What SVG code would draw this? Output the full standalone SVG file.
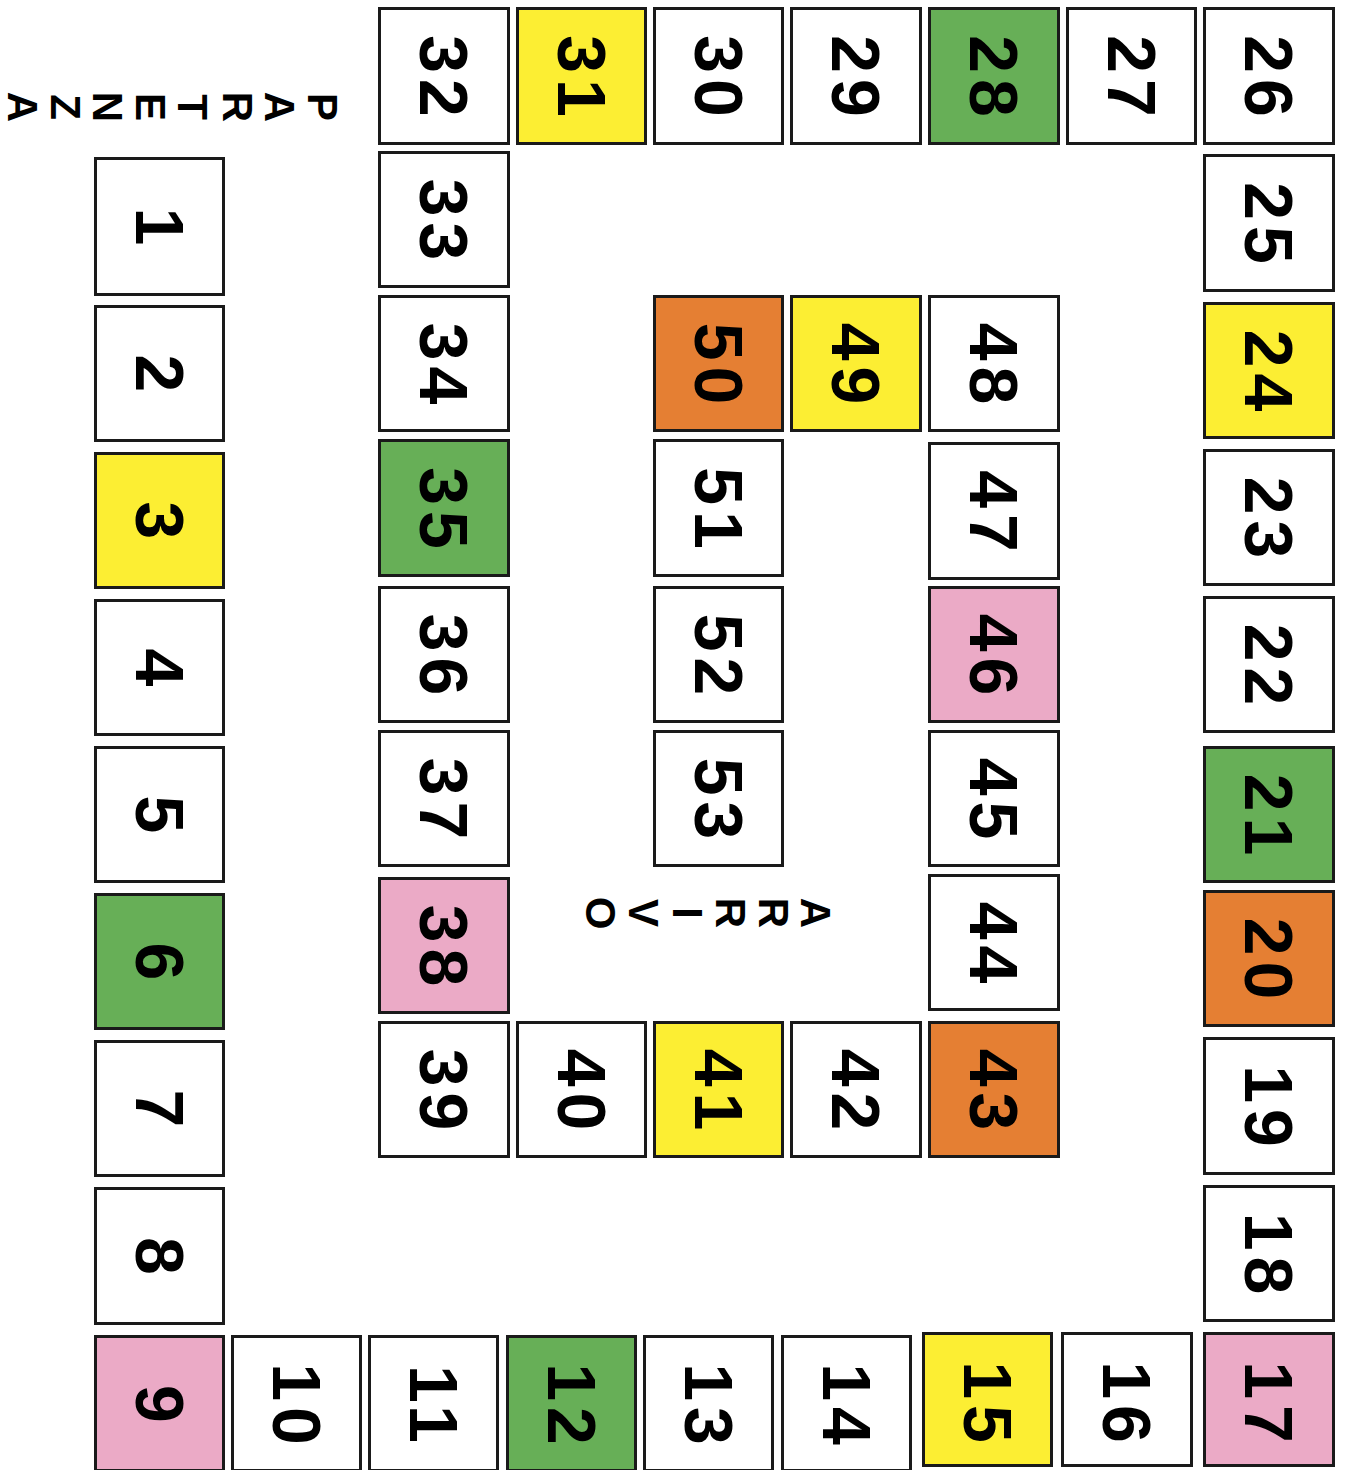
<svg xmlns="http://www.w3.org/2000/svg" width="1347" height="1470" viewBox="0 0 1347 1470">
<style>
.sq{fill:#ffffff;stroke:#1a1a1a;stroke-width:3}
.y{fill:#fcee33}
.g{fill:#67af57}
.o{fill:#e57f33}
.p{fill:#ebaac6}
.n{font-family:"Liberation Sans",Arial,sans-serif;font-weight:bold;font-size:68px;letter-spacing:6px;text-anchor:middle;dominant-baseline:central;fill:#000}
.l{font-family:"Liberation Sans",Arial,sans-serif;font-weight:bold;font-size:42px;text-anchor:middle;dominant-baseline:central;fill:#000}
</style>
<rect width="1347" height="1470" fill="#ffffff"/>
<g id="squares">
<g id="s1"><rect class="sq" x="95.5" y="158.5" width="128" height="136"/><text class="n" x="162.5" y="226.5" transform="rotate(90 159.5 226.5)">1</text></g>
<g id="s2"><rect class="sq" x="95.5" y="306.5" width="128" height="134"/><text class="n" x="162.5" y="373.5" transform="rotate(90 159.5 373.5)">2</text></g>
<g id="s3"><rect class="sq y" x="95.5" y="453.5" width="128" height="134"/><text class="n" x="162.5" y="520.5" transform="rotate(90 159.5 520.5)">3</text></g>
<g id="s4"><rect class="sq" x="95.5" y="600.5" width="128" height="134"/><text class="n" x="162.5" y="667.5" transform="rotate(90 159.5 667.5)">4</text></g>
<g id="s5"><rect class="sq" x="95.5" y="747.5" width="128" height="134"/><text class="n" x="162.5" y="814.5" transform="rotate(90 159.5 814.5)">5</text></g>
<g id="s6"><rect class="sq g" x="95.5" y="894.5" width="128" height="134"/><text class="n" x="162.5" y="961.5" transform="rotate(90 159.5 961.5)">6</text></g>
<g id="s7"><rect class="sq" x="95.5" y="1041.5" width="128" height="134"/><text class="n" x="162.5" y="1108.5" transform="rotate(90 159.5 1108.5)">7</text></g>
<g id="s8"><rect class="sq" x="95.5" y="1188.5" width="128" height="135"/><text class="n" x="162.5" y="1256" transform="rotate(90 159.5 1256)">8</text></g>
<g id="s9"><rect class="sq p" x="95.5" y="1336.5" width="128" height="134"/><text class="n" x="162.5" y="1404" transform="rotate(90 159.5 1404)">9</text></g>
<g id="s10"><rect class="sq" x="232.5" y="1336.5" width="128" height="134"/><text class="n" x="299.5" y="1404" transform="rotate(90 296.5 1404)">10</text></g>
<g id="s11"><rect class="sq" x="369.5" y="1336.5" width="128" height="134"/><text class="n" x="436.5" y="1404" transform="rotate(90 433.5 1404)">11</text></g>
<g id="s12"><rect class="sq g" x="507.5" y="1336.5" width="128" height="134"/><text class="n" x="574.5" y="1404" transform="rotate(90 571.5 1404)">12</text></g>
<g id="s13"><rect class="sq" x="644.5" y="1336.5" width="128" height="134"/><text class="n" x="711.5" y="1404" transform="rotate(90 708.5 1404)">13</text></g>
<g id="s14"><rect class="sq" x="782.5" y="1336.5" width="128" height="134"/><text class="n" x="849.5" y="1404" transform="rotate(90 846.5 1404)">14</text></g>
<g id="s15"><rect class="sq y" x="923.5" y="1333.5" width="128" height="132"/><text class="n" x="990.5" y="1402" transform="rotate(90 987.5 1402)">15</text></g>
<g id="s16"><rect class="sq" x="1062.5" y="1333.5" width="129" height="132"/><text class="n" x="1130" y="1402" transform="rotate(90 1127 1402)">16</text></g>
<g id="s17"><rect class="sq p" x="1204.5" y="1333.5" width="129" height="132"/><text class="n" x="1272" y="1402" transform="rotate(90 1269 1402)">17</text></g>
<g id="s18"><rect class="sq" x="1204.5" y="1186.5" width="129" height="134"/><text class="n" x="1272" y="1253.5" transform="rotate(90 1269 1253.5)">18</text></g>
<g id="s19"><rect class="sq" x="1204.5" y="1038.5" width="129" height="135"/><text class="n" x="1272" y="1106" transform="rotate(90 1269 1106)">19</text></g>
<g id="s20"><rect class="sq o" x="1204.5" y="891.5" width="129" height="134"/><text class="n" x="1272" y="958.5" transform="rotate(90 1269 958.5)">20</text></g>
<g id="s21"><rect class="sq g" x="1204.5" y="747.5" width="129" height="134"/><text class="n" x="1272" y="814.5" transform="rotate(90 1269 814.5)">21</text></g>
<g id="s22"><rect class="sq" x="1204.5" y="597.5" width="129" height="134"/><text class="n" x="1272" y="664.5" transform="rotate(90 1269 664.5)">22</text></g>
<g id="s23"><rect class="sq" x="1204.5" y="450.5" width="129" height="134"/><text class="n" x="1272" y="517.5" transform="rotate(90 1269 517.5)">23</text></g>
<g id="s24"><rect class="sq y" x="1204.5" y="303.5" width="129" height="134"/><text class="n" x="1272" y="370.5" transform="rotate(90 1269 370.5)">24</text></g>
<g id="s25"><rect class="sq" x="1204.5" y="155.5" width="129" height="135"/><text class="n" x="1272" y="223" transform="rotate(90 1269 223)">25</text></g>
<g id="s26"><rect class="sq" x="1204.5" y="8.5" width="129" height="135"/><text class="n" x="1272" y="76" transform="rotate(90 1269 76)">26</text></g>
<g id="s27"><rect class="sq" x="1067.5" y="8.5" width="128" height="135"/><text class="n" x="1134.5" y="76" transform="rotate(90 1131.5 76)">27</text></g>
<g id="s28"><rect class="sq g" x="929.5" y="8.5" width="129" height="135"/><text class="n" x="997" y="76" transform="rotate(90 994 76)">28</text></g>
<g id="s29"><rect class="sq" x="791.5" y="8.5" width="129" height="135"/><text class="n" x="859" y="76" transform="rotate(90 856 76)">29</text></g>
<g id="s30"><rect class="sq" x="654.5" y="8.5" width="128" height="135"/><text class="n" x="721.5" y="76" transform="rotate(90 718.5 76)">30</text></g>
<g id="s31"><rect class="sq y" x="517.5" y="8.5" width="128" height="135"/><text class="n" x="584.5" y="76" transform="rotate(90 581.5 76)">31</text></g>
<g id="s32"><rect class="sq" x="379.5" y="8.5" width="129" height="135"/><text class="n" x="447" y="76" transform="rotate(90 444 76)">32</text></g>
<g id="s33"><rect class="sq" x="379.5" y="152.5" width="129" height="134"/><text class="n" x="447" y="219.5" transform="rotate(90 444 219.5)">33</text></g>
<g id="s34"><rect class="sq" x="379.5" y="296.5" width="129" height="134"/><text class="n" x="447" y="363.5" transform="rotate(90 444 363.5)">34</text></g>
<g id="s35"><rect class="sq g" x="379.5" y="440.5" width="129" height="135"/><text class="n" x="447" y="508" transform="rotate(90 444 508)">35</text></g>
<g id="s36"><rect class="sq" x="379.5" y="587.5" width="129" height="134"/><text class="n" x="447" y="654.5" transform="rotate(90 444 654.5)">36</text></g>
<g id="s37"><rect class="sq" x="379.5" y="731.5" width="129" height="134"/><text class="n" x="447" y="798.5" transform="rotate(90 444 798.5)">37</text></g>
<g id="s38"><rect class="sq p" x="379.5" y="878.5" width="129" height="134"/><text class="n" x="447" y="945.5" transform="rotate(90 444 945.5)">38</text></g>
<g id="s39"><rect class="sq" x="379.5" y="1022.5" width="129" height="134"/><text class="n" x="447" y="1089.5" transform="rotate(90 444 1089.5)">39</text></g>
<g id="s40"><rect class="sq" x="517.5" y="1022.5" width="128" height="134"/><text class="n" x="584.5" y="1089.5" transform="rotate(90 581.5 1089.5)">40</text></g>
<g id="s41"><rect class="sq y" x="654.5" y="1022.5" width="128" height="134"/><text class="n" x="721.5" y="1089.5" transform="rotate(90 718.5 1089.5)">41</text></g>
<g id="s42"><rect class="sq" x="791.5" y="1022.5" width="129" height="134"/><text class="n" x="859" y="1089.5" transform="rotate(90 856 1089.5)">42</text></g>
<g id="s43"><rect class="sq o" x="929.5" y="1022.5" width="129" height="134"/><text class="n" x="997" y="1089.5" transform="rotate(90 994 1089.5)">43</text></g>
<g id="s44"><rect class="sq" x="929.5" y="875.5" width="129" height="134"/><text class="n" x="997" y="942.5" transform="rotate(90 994 942.5)">44</text></g>
<g id="s45"><rect class="sq" x="929.5" y="731.5" width="129" height="134"/><text class="n" x="997" y="798.5" transform="rotate(90 994 798.5)">45</text></g>
<g id="s46"><rect class="sq p" x="929.5" y="587.5" width="129" height="134"/><text class="n" x="997" y="654.5" transform="rotate(90 994 654.5)">46</text></g>
<g id="s47"><rect class="sq" x="929.5" y="443.5" width="129" height="135"/><text class="n" x="997" y="511" transform="rotate(90 994 511)">47</text></g>
<g id="s48"><rect class="sq" x="929.5" y="296.5" width="129" height="134"/><text class="n" x="997" y="363.5" transform="rotate(90 994 363.5)">48</text></g>
<g id="s49"><rect class="sq y" x="791.5" y="296.5" width="129" height="134"/><text class="n" x="859" y="363.5" transform="rotate(90 856 363.5)">49</text></g>
<g id="s50"><rect class="sq o" x="654.5" y="296.5" width="128" height="134"/><text class="n" x="721.5" y="363.5" transform="rotate(90 718.5 363.5)">50</text></g>
<g id="s51"><rect class="sq" x="654.5" y="440.5" width="128" height="135"/><text class="n" x="721.5" y="508" transform="rotate(90 718.5 508)">51</text></g>
<g id="s52"><rect class="sq" x="654.5" y="587.5" width="128" height="134"/><text class="n" x="721.5" y="654.5" transform="rotate(90 718.5 654.5)">52</text></g>
<g id="s53"><rect class="sq" x="654.5" y="731.5" width="128" height="134"/><text class="n" x="721.5" y="798.5" transform="rotate(90 718.5 798.5)">53</text></g>
</g>
<g id="partenza">
<text class="l" x="322" y="107" transform="rotate(90 322 107)">P</text>
<text class="l" x="279" y="107" transform="rotate(90 279 107)">A</text>
<text class="l" x="237" y="107" transform="rotate(90 237 107)">R</text>
<text class="l" x="192" y="107" transform="rotate(90 192 107)">T</text>
<text class="l" x="150" y="107" transform="rotate(90 150 107)">E</text>
<text class="l" x="65" y="107" transform="rotate(90 65 107)">Z</text>
<text class="l" x="107" y="107" transform="rotate(90 107 107)">N</text>
<text class="l" x="22" y="107" transform="rotate(90 22 107)">A</text>
</g>
<g id="arrivo">
<text class="l" x="815" y="913" transform="rotate(90 815 913)">A</text>
<text class="l" x="773" y="913" transform="rotate(90 773 913)">R</text>
<text class="l" x="730" y="913" transform="rotate(90 730 913)">R</text>
<text class="l" x="687" y="913" transform="rotate(90 687 913)">I</text>
<text class="l" x="643" y="913" transform="rotate(90 643 913)">V</text>
<text class="l" x="600" y="913" transform="rotate(90 600 913)">O</text>
</g>
<g id="connectors"/>
</svg>
